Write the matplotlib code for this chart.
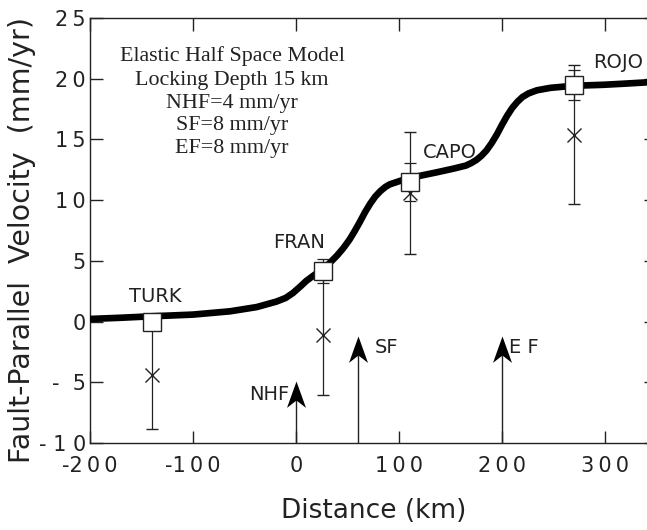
import numpy as np
import matplotlib
matplotlib.use('Agg')
from matplotlib import pyplot as plt
from matplotlib.path import Path

# model curve (distance km, velocity mm/yr)
curve_x = [-200, -170, -140, -100, -64, -38, -19, -10, -3, 5, 10, 18, 26, 33, 40, 46, 52, 57,
           62, 67, 72, 77, 82, 87, 91, 105, 120, 137, 153, 165, 170, 175, 180, 185, 190, 195,
           200, 205, 210, 215, 220, 226, 234, 247, 260, 280, 298, 320, 350]
curve_v = [0.22, 0.32, 0.44, 0.58, 0.85, 1.2, 1.65, 1.95, 2.35, 2.95, 3.35, 3.85, 4.3, 4.85,
           5.45, 6.05, 6.75, 7.45, 8.2, 9.0, 9.7, 10.3, 10.75, 11.1, 11.3, 11.7, 12.0, 12.3,
           12.6, 12.85, 13.05, 13.3, 13.65, 14.1, 14.7, 15.4, 16.2, 16.95, 17.6, 18.1, 18.5,
           18.8, 19.05, 19.25, 19.35, 19.45, 19.5, 19.6, 19.75]

# GPS stations
stations = ['TURK', 'FRAN', 'CAPO', 'ROJO']
sta_x = [-140, 26, 111, 270]
model_v = [0.0, 4.15, 11.5, 19.5]
model_err = [0.5, 1.0, 1.6, 1.25]
obs_v = [-4.4, -1.1, 10.6, 15.4]
obs_err = [4.4, 4.9, 5.0, 5.7]
label_x = [-137, 3, 149, 313]
label_v = [2.1, 6.5, 13.9, 21.3]

# faults
faults = ['NHF', 'SF', 'E F']
fault_x = [0, 60, 200]
fault_tip = [-4.9, -1.2, -1.2]

info = ['Elastic Half Space Model', 'Locking Depth 15 km', 'NHF=4 mm/yr',
        'SF=8 mm/yr', 'EF=8 mm/yr']

xticks = [-200, -100, 0, 100, 200, 300]
xtick_labels = ['-2\u20090\u20090', '-1\u20090\u20090', '0', '1\u20090\u20090',
                '2\u20090\u20090', '3\u20090\u20090']
yticks = [-10, -5, 0, 5, 10, 15, 20, 25]
ytick_labels = ['- 1 0', '-  5', '0', '5', '1\u20090', '1\u20095', '2\u20090', '2\u20095']

plt.rcParams['font.family'] = ['DejaVu Sans']
ink = '#222222'

fig = plt.figure(figsize=(6.47, 5.30), dpi=100)
ax = fig.add_axes([0.139, 0.164, 0.8756, 0.802])
ax.set_xlim(-200, 350)
ax.set_ylim(-10, 25)

# observed velocities with big error bars
ax.errorbar(sta_x, obs_v, yerr=obs_err, fmt='x', color=ink, ms=10, mew=1.0,
            elinewidth=0.9, capsize=4, capthick=0.9, zorder=2)

# model curve
ax.plot(curve_x, curve_v, color='black', lw=4.8, solid_capstyle='butt',
        solid_joinstyle='round', zorder=3)

# model values at stations
ax.errorbar(sta_x, model_v, yerr=model_err, fmt='none', ecolor=ink,
            elinewidth=0.9, capsize=4, capthick=0.9, zorder=4)
ax.plot(sta_x, model_v, 's', ms=13.5, mfc='white', mec=ink, mew=1.0, zorder=5)

for name, x, v in zip(stations, label_x, label_v):
    ax.text(x, v, name, ha='center', va='center', fontsize=14, color=ink)

# fault arrows
head = Path([(0, 0), (0.36, -1.0), (0, -0.72), (-0.36, -1.0), (0, 0)],
            [Path.MOVETO, Path.LINETO, Path.LINETO, Path.LINETO, Path.CLOSEPOLY])
for name, x, tip in zip(faults, fault_x, fault_tip):
    ax.plot([x, x], [-10, tip - 1.0], color=ink, lw=1.0, zorder=2)
    ax.plot([x], [tip], marker=head, ms=38, color='black', mew=0, zorder=3)
ax.text(-6, -6.0, faults[0], ha='right', va='center', fontsize=14, color=ink)
ax.text(77, -2.15, faults[1], ha='left', va='center', fontsize=14, color=ink)
ax.text(207, -2.15, faults[2], ha='left', va='center', fontsize=14, color=ink)

# model info
info_v = [21.85, 19.85, 18.0, 16.15, 14.25]
for line, v in zip(info, info_v):
    ax.text(-62, v, line, ha='center', va='center', fontsize=15.8,
            family='Liberation Serif', color=ink)

ax.set_xticks(xticks)
ax.set_xticklabels(xtick_labels)
ax.set_yticks(yticks)
ax.set_yticklabels(ytick_labels)
ax.tick_params(direction='in', length=9, width=1.0, color=ink, top=True, right=True,
               labelsize=15, labelcolor=ink)
ax.tick_params(axis='x', pad=9)
ax.tick_params(axis='y', pad=3)
for sp in ax.spines.values():
    sp.set_color(ink)
    sp.set_linewidth(1.0)

ax.set_xlabel('Distance (km)', fontsize=19, color=ink, labelpad=16)
ax.set_ylabel('Fault-Parallel  Velocity  (mm/yr)', fontsize=20.5, color=ink)
ax.yaxis.set_label_coords(-0.095, 0.478)

fig.savefig('out.png', dpi=100)
